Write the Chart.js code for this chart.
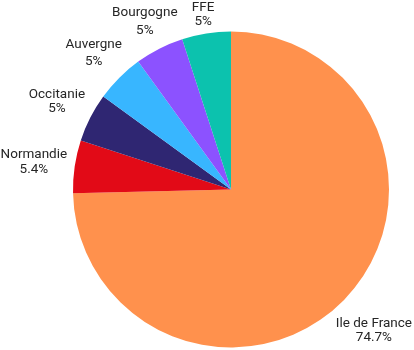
<!DOCTYPE html>
<html lang="fr">
<head>
  <meta charset="UTF-8" />
  <title>Répartition</title>
  <script src="https://cdn.jsdelivr.net/npm/chart.js"></script>
  <style>
    html, body {
      margin: 0;
      padding: 0;
      background: #ffffff;
    }
    #wrap {
      width: 414px;
      height: 350px;
    }
  </style>
</head>
<body>
  <div id="wrap">
    <canvas id="pieChart" width="414" height="350"></canvas>
  </div>

  <script>
    const regions = ['Ile de France', 'Normandie', 'Occitanie', 'Auvergne', 'Bourgogne', 'FFE'];
    const shares = [74.7, 5.4, 5, 5, 5, 5];
    const sliceColors = ['#FF914D', '#E20A17', '#2F2672', '#38B6FF', '#8C52FF', '#0CC2AE'];

    // labels sit outside the pie; the ink box of the text is kept just clear of the rim
    const outsideLabels = {
      id: 'outsideLabels',
      afterDraw(chart) {
        const ctx = chart.ctx;
        const arcs = chart.getDatasetMeta(0).data;
        const lineGap = 5.8;
        const gap = 7;
        ctx.save();
        ctx.font = '13.5px Roboto';
        ctx.fillStyle = '#262626';
        ctx.textAlign = 'center';
        ctx.textBaseline = 'alphabetic';
        arcs.forEach((arc, i) => {
          const p = arc.getProps(['x', 'y', 'startAngle', 'endAngle', 'outerRadius'], true);
          const mid = (p.startAngle + p.endAngle) / 2;
          const ux = Math.cos(mid), uy = Math.sin(mid);
          const lines = [regions[i], shares[i] + '%'];
          const m = lines.map(l => ctx.measureText(l));
          const w = Math.max(...m.map(x => x.actualBoundingBoxLeft + x.actualBoundingBoxRight));
          let h = lineGap * (lines.length - 1);
          m.forEach(x => { h += x.actualBoundingBoxAscent + x.actualBoundingBoxDescent; });
          let t = 0;
          while (t < 300) {
            const cx = Math.abs(ux * t), cy = Math.abs(uy * t);
            const dx = Math.max(0, cx - w / 2), dy = Math.max(0, cy - h / 2);
            if (Math.sqrt(dx * dx + dy * dy) >= p.outerRadius + gap) break;
            t += 0.25;
          }
          const bx = p.x + ux * t;
          let y = p.y + uy * t - h / 2;
          lines.forEach((l, j) => {
            y += m[j].actualBoundingBoxAscent;
            ctx.fillText(l, bx, y);
            y += m[j].actualBoundingBoxDescent + lineGap;
          });
        });
        ctx.restore();
      }
    };

    new Chart(document.getElementById('pieChart'), {
      type: 'pie',
      data: {
        labels: regions,
        datasets: [{
          data: shares,
          backgroundColor: sliceColors,
          borderWidth: 0
        }]
      },
      options: {
        responsive: false,
        animation: false,
        layout: {
          padding: { left: 73, right: 25, top: 31.5, bottom: 2.5 }
        },
        plugins: {
          legend: { display: false },
          tooltip: { enabled: false }
        }
      },
      plugins: [outsideLabels]
    });
  </script>
</body>
</html>
